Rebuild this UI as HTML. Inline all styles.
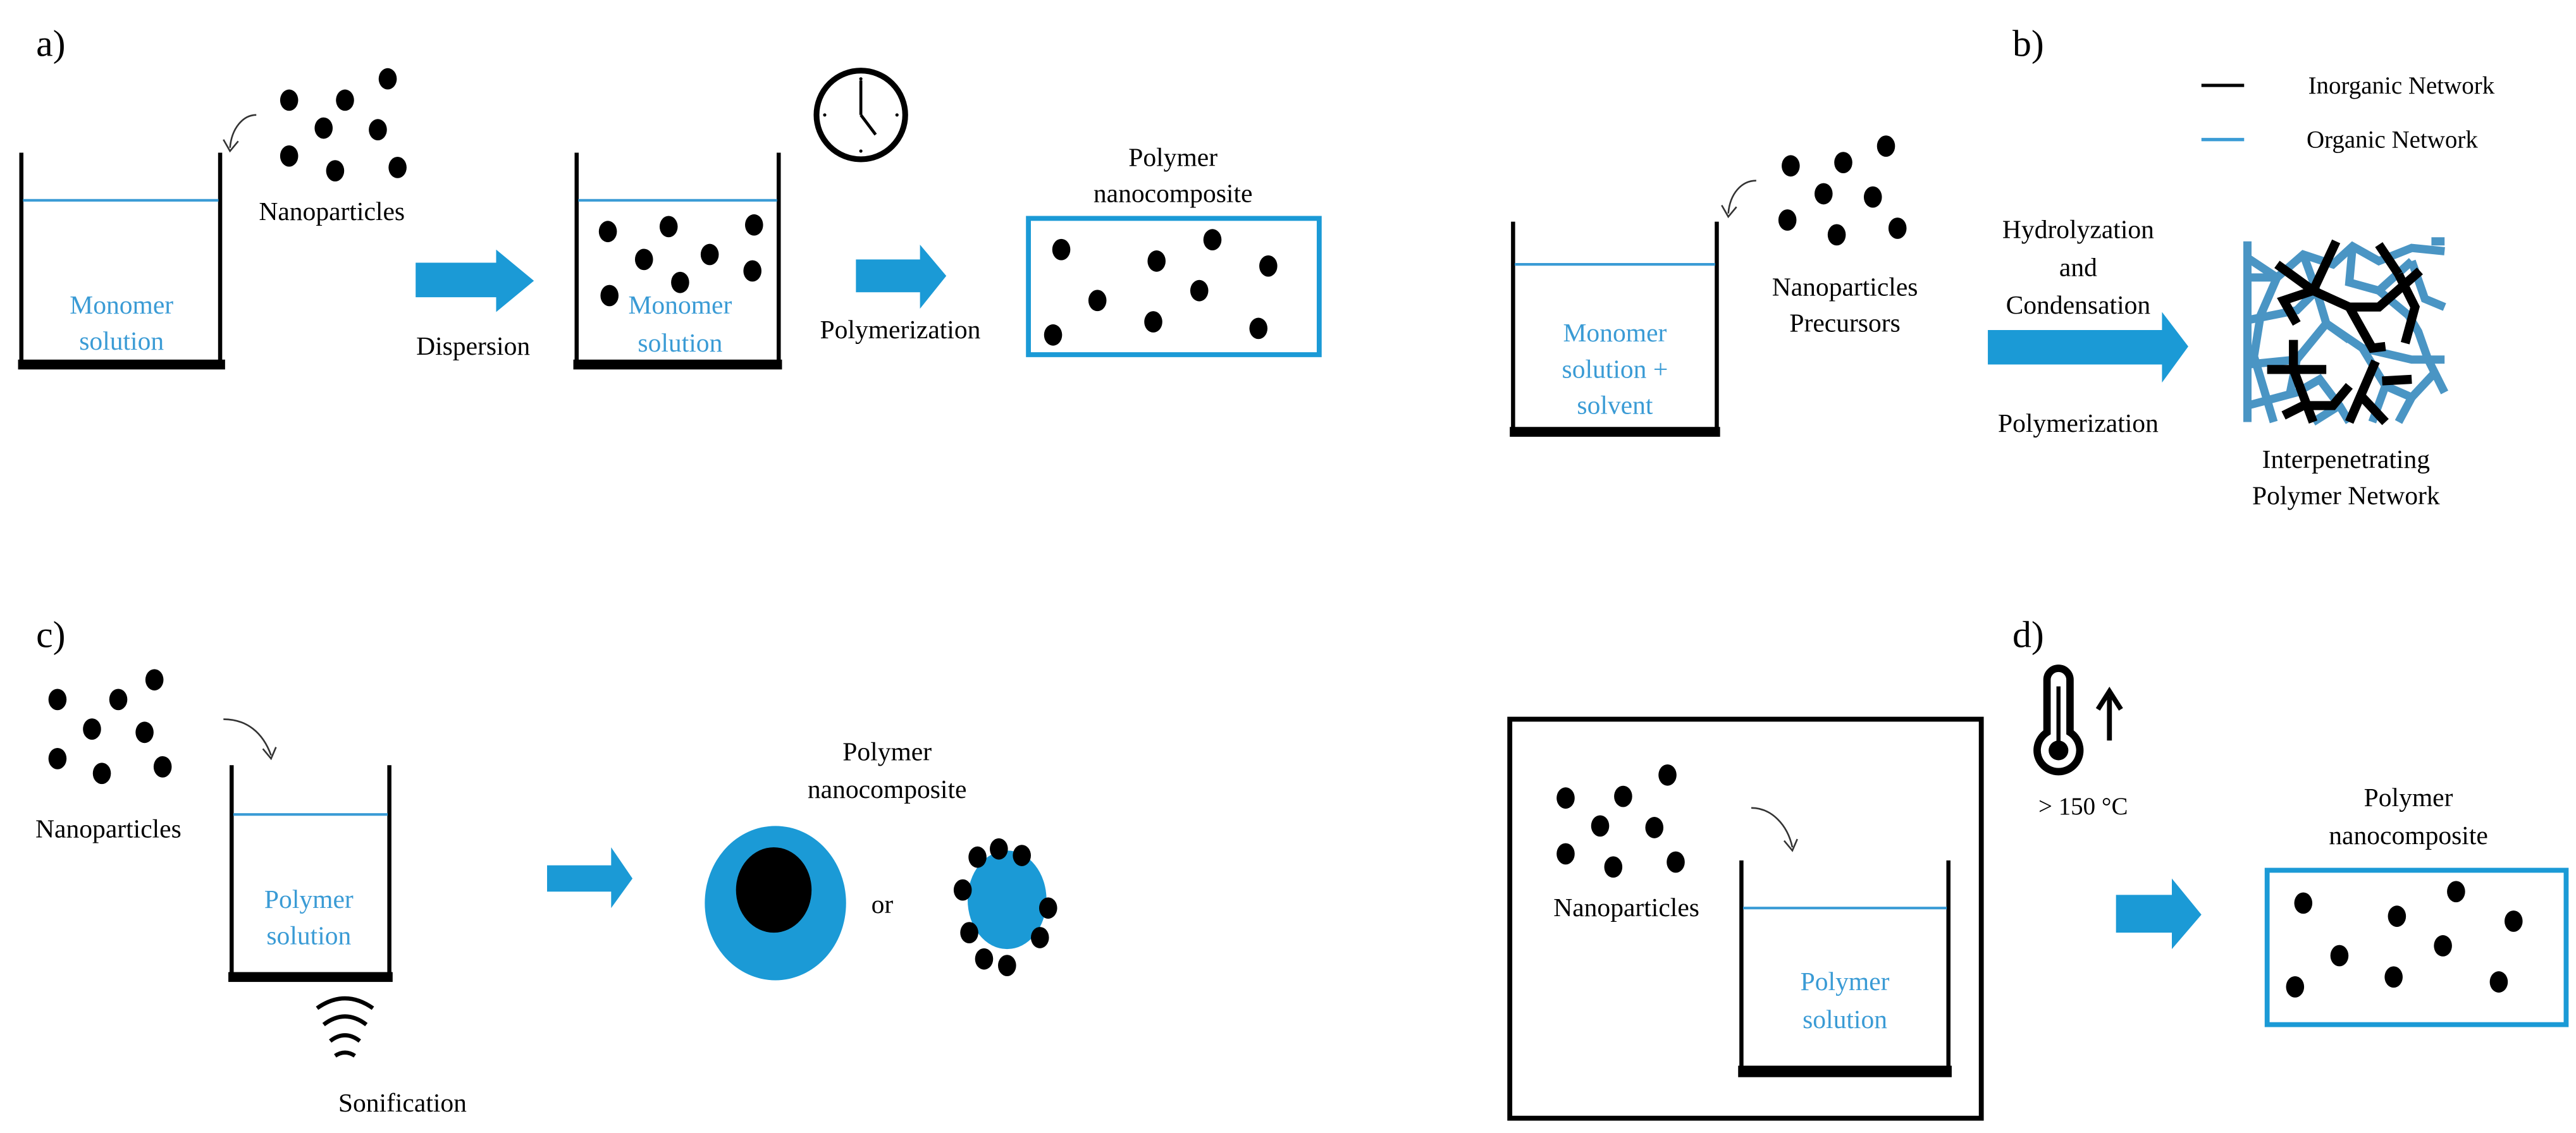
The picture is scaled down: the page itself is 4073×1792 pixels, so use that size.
<!DOCTYPE html>
<html><head><meta charset="utf-8"><style>
html,body{margin:0;padding:0;background:#fff;}
svg{display:block;}
svg text{font-family:'Liberation Serif',serif;}
</style></head><body>
<svg width="4073" height="1792" viewBox="0 0 1568 690" preserveAspectRatio="none" xmlns="http://www.w3.org/2000/svg">
<defs>
<g id="dot"><ellipse cx="0" cy="0" rx="5.5" ry="6.5" fill="#000"/></g>
</defs>
<g font-family="'Liberation Serif', serif" font-size="16" text-anchor="middle" fill="#000">

<!-- ===== a ===== -->
<text x="22" y="34" font-size="23" text-anchor="start">a)</text>
<path d="M13,93 V222 H134 V93" fill="none" stroke="#000" stroke-width="2.5"/>
<rect x="11" y="219" width="126" height="6" fill="#000"/>
<line x1="14" y1="122" x2="133" y2="122" stroke="#3a9bd5" stroke-width="1.6"/>
<text x="74" y="191" fill="#3a9bd5">Monomer</text>
<text x="74" y="213" fill="#3a9bd5">solution</text>
<use href="#dot" x="236" y="48"/><use href="#dot" x="176" y="61"/><use href="#dot" x="210" y="61"/>
<use href="#dot" x="197" y="78"/><use href="#dot" x="230" y="79"/><use href="#dot" x="176" y="95"/>
<use href="#dot" x="204" y="104"/><use href="#dot" x="242" y="102"/>
<text x="202" y="134">Nanoparticles</text>
<path d="M156,70 C148,70 141,78 140,90" fill="none" stroke="#333" stroke-width="1"/>
<path d="M136,85 L140,92 L145,86" fill="none" stroke="#333" stroke-width="1"/>
<path d="M253,160 H302 V152 L325,171 L302,190 V181 H253 Z" fill="#1b9ad6"/>
<text x="288" y="216">Dispersion</text>
<path d="M351,93 V222 H474 V93" fill="none" stroke="#000" stroke-width="2.5"/>
<rect x="349" y="219" width="127" height="6" fill="#000"/>
<line x1="352" y1="122" x2="473" y2="122" stroke="#3a9bd5" stroke-width="1.6"/>
<use href="#dot" x="370" y="141"/><use href="#dot" x="407" y="138"/><use href="#dot" x="459" y="137"/>
<use href="#dot" x="392" y="158"/><use href="#dot" x="432" y="155"/><use href="#dot" x="458" y="165"/>
<use href="#dot" x="414" y="172"/><use href="#dot" x="371" y="180"/>
<text x="414" y="191" fill="#3a9bd5">Monomer</text>
<text x="414" y="214" fill="#3a9bd5">solution</text>
<circle cx="524" cy="70" r="27" fill="none" stroke="#000" stroke-width="3.5"/>
<line x1="524" y1="70" x2="524" y2="49" stroke="#000" stroke-width="1.8"/>
<line x1="524" y1="70" x2="533" y2="82" stroke="#000" stroke-width="1.8"/>
<circle cx="524" cy="48" r="1" fill="#000"/><circle cx="524" cy="92" r="1" fill="#000"/>
<circle cx="502" cy="70" r="1" fill="#000"/><circle cx="546" cy="70" r="1" fill="#000"/>
<path d="M521,158 H560 V149 L576,168 L560,188 V178 H521 Z" fill="#1b9ad6"/>
<text x="548" y="206">Polymerization</text>
<text x="714" y="101">Polymer</text>
<text x="714" y="123">nanocomposite</text>
<rect x="626" y="133" width="177" height="83" fill="none" stroke="#1b9ad6" stroke-width="3"/>
<use href="#dot" x="646" y="152"/><use href="#dot" x="738" y="146"/><use href="#dot" x="704" y="159"/>
<use href="#dot" x="772" y="162"/><use href="#dot" x="668" y="183"/><use href="#dot" x="730" y="177"/>
<use href="#dot" x="702" y="196"/><use href="#dot" x="766" y="200"/><use href="#dot" x="641" y="204"/>

<!-- ===== b ===== -->
<text x="1225" y="34" font-size="23" text-anchor="start">b)</text>
<line x1="1340" y1="52" x2="1366" y2="52" stroke="#000" stroke-width="2"/>
<text x="1405" y="57" text-anchor="start" font-size="15">Inorganic Network</text>
<line x1="1340" y1="85" x2="1366" y2="85" stroke="#3a9bd5" stroke-width="2"/>
<text x="1404" y="90" text-anchor="start" font-size="15">Organic Network</text>
<path d="M921,135 V263 H1045 V135" fill="none" stroke="#000" stroke-width="2.5"/>
<rect x="919" y="260" width="128" height="6" fill="#000"/>
<line x1="922" y1="161" x2="1044" y2="161" stroke="#3a9bd5" stroke-width="1.6"/>
<text x="983" y="208" fill="#3a9bd5">Monomer</text>
<text x="983" y="230" fill="#3a9bd5">solution +</text>
<text x="983" y="252" fill="#3a9bd5">solvent</text>
<use href="#dot" x="1148" y="89"/><use href="#dot" x="1090" y="101"/><use href="#dot" x="1122" y="99"/>
<use href="#dot" x="1110" y="118"/><use href="#dot" x="1140" y="120"/><use href="#dot" x="1088" y="134"/>
<use href="#dot" x="1118" y="143"/><use href="#dot" x="1155" y="139"/>
<path d="M1069,110 C1060,110 1053,118 1052,130" fill="none" stroke="#333" stroke-width="1"/>
<path d="M1048,125 L1052,132 L1057,126" fill="none" stroke="#333" stroke-width="1"/>
<text x="1123" y="180">Nanoparticles</text>
<text x="1123" y="202">Precursors</text>
<text x="1265" y="145">Hydrolyzation</text>
<text x="1265" y="168">and</text>
<text x="1265" y="191">Condensation</text>
<path d="M1210,201 H1316 V190 L1332,211 L1316,233 V222 H1210 Z" fill="#1b9ad6"/>
<text x="1265" y="263">Polymerization</text>
<g transform="translate(1368,147)" fill="none" stroke-linecap="butt">
<g stroke="#4a95c4" stroke-width="5">
<path d="M0,10 L18,22 L34,8 L52,14 L64,3 L80,12 L100,4 L120,6"/>
<path d="M18,22 L8,45 L4,70 L10,90 L16,110"/>
<path d="M0,22 L18,22"/>
<path d="M0,75 L30,72 L48,50 L70,65 L100,72 L120,72"/>
<path d="M34,8 L42,30 L48,50"/>
<path d="M64,3 L62,25 L80,30 L100,12"/>
<path d="M42,30 L30,42 L0,48"/>
<path d="M100,12 L108,35 L120,40"/>
<path d="M80,30 L98,45 L104,55 L110,72 L120,92"/>
<path d="M48,50 L62,60"/>
<path d="M0,100 L30,92 L44,84 L56,100 L62,110"/>
<path d="M30,72 L26,92"/>
<path d="M70,65 L84,88 L100,95 L92,110"/>
<path d="M100,95 L114,80"/>
<path d="M84,88 L76,110"/>
<path d="M56,100 L40,110"/>
<path d="M112,0 L120,0 M0,0 L0,110"/>
</g>
<g stroke="#000" stroke-width="5.5">
<path d="M54,0 L40,30 L22,36 L30,50"/>
<path d="M18,14 L40,30 L62,40 L80,40 L105,18"/>
<path d="M62,40 L76,65 L84,64"/>
<path d="M92,20 L102,40 L96,62"/>
<path d="M80,2 L92,20"/>
<path d="M12,78 L48,78"/>
<path d="M28,60 L28,78 L40,110"/>
<path d="M62,88 L52,100 L34,100 L22,106"/>
<path d="M78,73 L62,110"/>
<path d="M82,85 L100,84"/>
<path d="M70,95 L84,110"/>
</g>
</g>
<text x="1428" y="285">Interpenetrating</text>
<text x="1428" y="307">Polymer Network</text>

<!-- ===== c ===== -->
<text x="22" y="394" font-size="23" text-anchor="start">c)</text>
<use href="#dot" x="94" y="414"/><use href="#dot" x="35" y="426"/><use href="#dot" x="72" y="426"/>
<use href="#dot" x="56" y="444"/><use href="#dot" x="88" y="446"/><use href="#dot" x="35" y="462"/>
<use href="#dot" x="62" y="471"/><use href="#dot" x="99" y="467"/>
<text x="66" y="510">Nanoparticles</text>
<path d="M136,438 C150,438 160,446 165,460" fill="none" stroke="#333" stroke-width="1"/>
<path d="M160,456 L165,462 L168,455" fill="none" stroke="#333" stroke-width="1"/>
<path d="M141,466 V595 H237 V466" fill="none" stroke="#000" stroke-width="2.5"/>
<rect x="139" y="592" width="100" height="6" fill="#000"/>
<line x1="142" y1="496" x2="236" y2="496" stroke="#3a9bd5" stroke-width="1.6"/>
<text x="188" y="553" fill="#3a9bd5">Polymer</text>
<text x="188" y="575" fill="#3a9bd5">solution</text>
<g fill="none" stroke="#000" stroke-width="2.5">
<path d="M193,614 Q210,602 227,614"/>
<path d="M197,624 Q210,614 223,624"/>
<path d="M201,634 Q210,627 219,634"/>
<path d="M204,643 Q210,639 216,643"/>
</g>
<text x="245" y="677">Sonification</text>
<path d="M333,527 H372 V516 L385,535 L372,553 V543 H333 Z" fill="#1b9ad6"/>
<text x="540" y="463">Polymer</text>
<text x="540" y="486">nanocomposite</text>
<ellipse cx="472" cy="550" rx="43" ry="47" fill="#1b9ad6"/>
<ellipse cx="471" cy="542" rx="23" ry="26" fill="#000"/>
<text x="537" y="556">or</text>
<ellipse cx="613" cy="548" rx="24" ry="30" fill="#1b9ad6"/>
<use href="#dot" x="595" y="522"/><use href="#dot" x="608" y="517"/><use href="#dot" x="622" y="521"/>
<use href="#dot" x="586" y="542"/><use href="#dot" x="638" y="553"/><use href="#dot" x="590" y="568"/>
<use href="#dot" x="633" y="571"/><use href="#dot" x="599" y="584"/><use href="#dot" x="613" y="588"/>

<!-- ===== d ===== -->
<text x="1225" y="394" font-size="23" text-anchor="start">d)</text>
<rect x="919" y="438" width="287" height="243" fill="none" stroke="#000" stroke-width="3"/>
<use href="#dot" x="1015" y="472"/><use href="#dot" x="953" y="486"/><use href="#dot" x="988" y="485"/>
<use href="#dot" x="974" y="503"/><use href="#dot" x="1007" y="504"/><use href="#dot" x="953" y="520"/>
<use href="#dot" x="982" y="528"/><use href="#dot" x="1020" y="525"/>
<text x="990" y="558">Nanoparticles</text>
<path d="M1066,492 C1078,492 1088,502 1091,516" fill="none" stroke="#333" stroke-width="1"/>
<path d="M1086,512 L1091,518 L1094,511" fill="none" stroke="#333" stroke-width="1"/>
<path d="M1060,524 V652 H1186 V524" fill="none" stroke="#000" stroke-width="2.5"/>
<rect x="1058" y="649" width="130" height="7" fill="#000"/>
<line x1="1061" y1="553" x2="1185" y2="553" stroke="#3a9bd5" stroke-width="1.6"/>
<text x="1123" y="603" fill="#3a9bd5">Polymer</text>
<text x="1123" y="626" fill="#3a9bd5">solution</text>
<path d="M1246,414 V446 A13,13 0 1 0 1260,446 V414 A7,7 0 0 0 1246,414 Z" fill="none" stroke="#000" stroke-width="4.5"/>
<circle cx="1253" cy="457" r="6" fill="#000"/>
<line x1="1253" y1="418" x2="1253" y2="455" stroke="#000" stroke-width="2.5"/>
<line x1="1284" y1="451" x2="1284" y2="424" stroke="#000" stroke-width="3"/>
<path d="M1277,432 L1284,421 L1291,432" fill="none" stroke="#000" stroke-width="3"/>
<text x="1268" y="496" font-size="15">&gt; 150 °C</text>
<path d="M1288,545 H1322 V535 L1340,557 L1322,578 V568 H1288 Z" fill="#1b9ad6"/>
<text x="1466" y="491">Polymer</text>
<text x="1466" y="514">nanocomposite</text>
<rect x="1380" y="530" width="182" height="94" fill="none" stroke="#1b9ad6" stroke-width="3"/>
<use href="#dot" x="1402" y="550"/><use href="#dot" x="1495" y="543"/><use href="#dot" x="1459" y="558"/>
<use href="#dot" x="1530" y="561"/><use href="#dot" x="1424" y="582"/><use href="#dot" x="1487" y="576"/>
<use href="#dot" x="1457" y="595"/><use href="#dot" x="1521" y="598"/><use href="#dot" x="1397" y="601"/>
</g>
</svg>
</body></html>
